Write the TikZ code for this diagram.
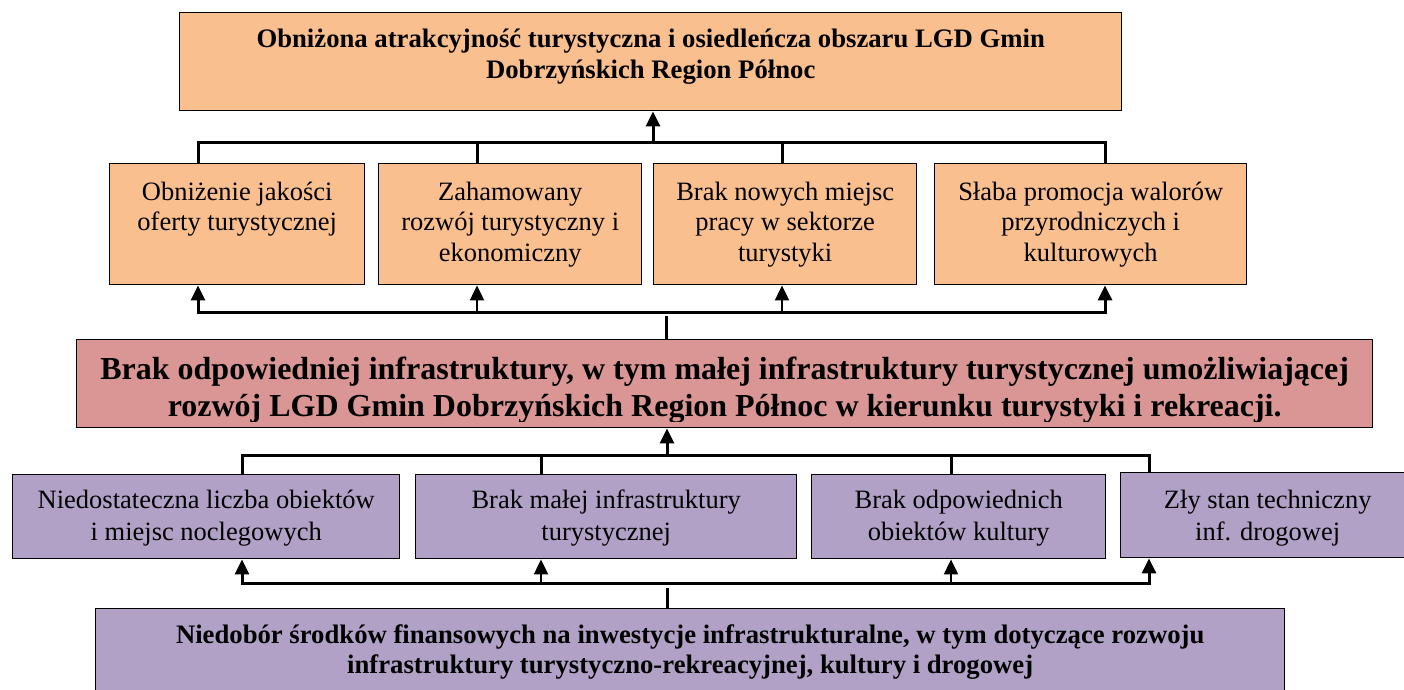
\documentclass[tikz,border=0pt]{standalone}
\usepackage{fontspec}
\setmainfont{Liberation Serif}
\usetikzlibrary{arrows.meta}
\definecolor{orangebox}{HTML}{FABF8F}
\definecolor{redbox}{HTML}{D99694}
\definecolor{purplebox}{HTML}{B2A1C7}
\tikzset{
  box/.style={draw=black, line width=1.4pt, inner sep=0pt, anchor=north west},
  obox/.style={box, fill=orangebox},
  rbox/.style={box, fill=redbox},
  pbox/.style={box, fill=purplebox},
  txtbase/.style={inner sep=0pt, anchor=north, align=center},
  ttext/.style={txtbase, font=\fontsize{26.7}{31}\selectfont\bfseries},
  otext/.style={txtbase, font=\fontsize{26.5}{30.5}\selectfont},
  rtext/.style={txtbase, font=\fontsize{32}{37}\selectfont\bfseries},
  ptext/.style={txtbase, font=\fontsize{26.5}{32}\selectfont},
  btext/.style={txtbase, font=\fontsize{26.7}{30}\selectfont\bfseries},
  bus/.style={line width=3pt, line join=miter},
  stem/.style={line width=2pt},
  arr/.style={-{Triangle[length=15pt,width=14pt]}},
  arrboth/.style={{Triangle[length=15pt,width=14pt]}-{Triangle[length=15pt,width=14pt]}}
}
\begin{document}
\begin{tikzpicture}[x=1pt,y=-1pt]
\path[use as bounding box] (0,0) rectangle (1404,689);
\clip (0,0) rectangle (1404,689);

% boxes
\node[obox, minimum width=942pt, minimum height=98pt] (T) at (179,12) {};
\node[obox, minimum width=255pt, minimum height=121pt] (O1) at (109,163) {};
\node[obox, minimum width=263pt, minimum height=121pt] (O2) at (378,163) {};
\node[obox, minimum width=263pt, minimum height=121pt] (O3) at (653,163) {};
\node[obox, minimum width=312pt, minimum height=121pt] (O4) at (934,163) {};
\node[rbox, minimum width=1296pt, minimum height=88pt] (R) at (76,339) {};
\node[pbox, minimum width=387pt, minimum height=84pt] (P1) at (12,474) {};
\node[pbox, minimum width=381pt, minimum height=84pt] (P2) at (415,474) {};
\node[pbox, minimum width=294pt, minimum height=84pt] (P3) at (811,474) {};
\node[pbox, minimum width=294pt, minimum height=85pt] (P4) at (1120,472) {};
\node[pbox, minimum width=1189pt, minimum height=110pt] (B) at (95,608) {};

% texts
\node[ttext] (Tt) at ([yshift=-13.3pt]T.north) {\strut Obniżona atrakcyjność turystyczna i osiedleńcza obszaru LGD Gmin\\Dobrzyńskich Region Północ\strut};
\node[otext] (O1t) at ([yshift=-15.6pt]O1.north) {\strut Obniżenie jakości\\oferty turystycznej\strut};
\node[otext] (O2t) at ([yshift=-15.6pt]O2.north) {\strut Zahamowany\\rozwój turystyczny i\\ekonomiczny\strut};
\node[otext] (O3t) at ([yshift=-15.6pt]O3.north) {\strut Brak nowych miejsc\\pracy w sektorze\\turystyki\strut};
\node[otext] (O4t) at ([yshift=-15.6pt]O4.north) {\strut Słaba promocja walorów\\przyrodniczych i\\kulturowych\strut};
\begin{scope}
\clip (R.north west) rectangle ([yshift=7pt]R.south east);
\node[rtext] (Rt) at ([yshift=-14.7pt]R.north) {\strut Brak odpowiedniej infrastruktury, w tym małej infrastruktury turystycznej umożliwiającej\\rozwój LGD Gmin Dobrzyńskich Region Północ w kierunku turystyki i rekreacji.\strut};
\end{scope}
\node[ptext] (P1t) at ([yshift=-11.6pt]P1.north) {\strut Niedostateczna liczba obiektów\\i miejsc noclegowych\strut};
\node[ptext] (P2t) at ([yshift=-11.6pt]P2.north) {\strut Brak małej infrastruktury\\turystycznej\strut};
\node[ptext] (P3t) at ([yshift=-11.6pt]P3.north) {\strut Brak odpowiednich\\obiektów kultury\strut};
\node[ptext] (P4t) at ([yshift=-13.6pt]P4.north) {\strut Zły stan techniczny\\inf. drogowej\strut};
\node[btext] (Bt) at ([yshift=-14pt]B.north) {\strut Niedobór środków finansowych na inwestycje infrastrukturalne, w tym dotyczące rozwoju\\infrastruktury turystyczno-rekreacyjnej, kultury i drogowej\strut};

% upper orange bus
\coordinate (oA) at (198,142);
\coordinate (oB) at (477,142);
\coordinate (oC) at (782,142);
\coordinate (oD) at (1105,142);
\coordinate (oT) at (653,142);
\draw[bus] (O1.north -| oA) -- (oA) -- (oD) -- (O4.north -| oD);
\draw[bus] (oB) -- (O2.north -| oB);
\draw[bus] (oC) -- (O3.north -| oC);
\draw[bus, arr] (oT) -- (T.south -| oT);

% lower orange bus
\coordinate (lA) at (198,312);
\coordinate (lB) at (477,312);
\coordinate (lC) at (782,312);
\coordinate (lD) at (1105,312);
\coordinate (lR) at (666,316);
\draw[bus, arrboth] (O1.south -| lA) -- (lA) -- (lD) -- (O4.south -| lD);
\draw[stem, arr] (lB) -- (O2.south -| lB);
\draw[stem, arr] (lC) -- (O3.south -| lC);
\draw[bus] (R.north -| lR) -- (lR);

% upper purple bus
\coordinate (pA) at (242,455);
\coordinate (pB) at (541,455);
\coordinate (pC) at (951,455);
\coordinate (pD) at (1149,455);
\coordinate (pR) at (667,455);
\draw[bus] (P1.north -| pA) -- (pA) -- (pD) -- (P4.north -| pD);
\draw[bus] (pB) -- (P2.north -| pB);
\draw[bus] (pC) -- (P3.north -| pC);
\draw[bus, arr] (pR) -- (R.south -| pR);

% lower purple bus
\coordinate (qA) at (242,583);
\coordinate (qB) at (541,583);
\coordinate (qC) at (951,583);
\coordinate (qD) at (1149,583);
\coordinate (qR) at (667,588);
\draw[bus, arrboth] (P1.south -| qA) -- (qA) -- (qD) -- (P4.south -| qD);
\draw[stem, arr] (qB) -- (P2.south -| qB);
\draw[stem, arr] (qC) -- (P3.south -| qC);
\draw[bus] (B.north -| qR) -- (qR);
\end{tikzpicture}
\end{document}
